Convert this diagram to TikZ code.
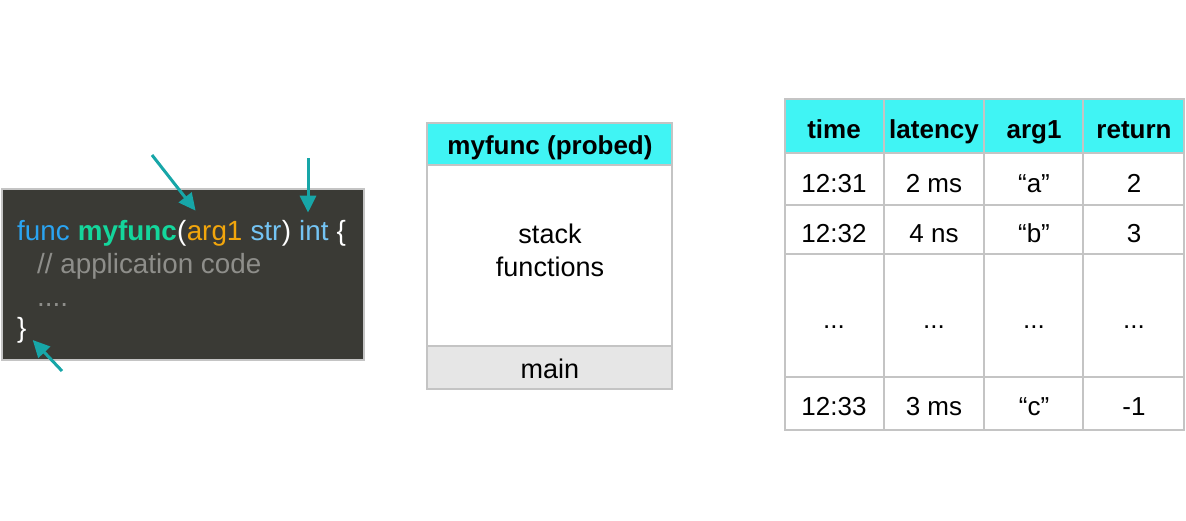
\documentclass[tikz,border=0pt]{standalone}
\usepackage{fontspec}
\setmainfont{Liberation Sans}
\usepackage{xcolor}
\usetikzlibrary{arrows.meta,positioning}

\definecolor{codebg}{HTML}{3A3A35}
\definecolor{frame}{HTML}{C4C4C4}
\definecolor{probeteal}{HTML}{17A6A8}
\definecolor{headcyan}{HTML}{40F4F4}
\definecolor{maingray}{HTML}{E6E6E6}
\definecolor{kwblue}{HTML}{2AA4F2}
\definecolor{fngreen}{HTML}{14D69C}
\definecolor{argorange}{HTML}{F2A60C}
\definecolor{typeblue}{HTML}{74C4F4}
\definecolor{commentgray}{HTML}{8E8E8A}

\newcommand{\rowdots}{...}

\tikzset{
  tok/.style={anchor=base west, inner sep=0pt, font=\fontsize{27.8}{30}\selectfont},
  lbl/.style={anchor=base, inner sep=0pt, font=\fontsize{26}{30}\selectfont},
  hlbl/.style={lbl, font=\fontsize{26}{30}\selectfont\bfseries},
  region/.style={draw=frame, line width=2pt, anchor=north west, inner sep=0pt, outer sep=0pt},
  probe/.style={draw=probeteal, line width=3pt, -{Triangle[length=17pt,width=16pt]}},
}

\begin{document}
\begin{tikzpicture}[x=1pt,y=-1pt]
\useasboundingbox (0,0) rectangle (1186,520);

% code
\node[region, fill=codebg, minimum width=362pt, minimum height=171pt] (code) at (2,189) {};
\node[tok, text=kwblue] (kwfunc) at (17,240) {func};
\node[tok, text=fngreen, font=\fontsize{27.8}{30}\selectfont\bfseries] (fname) at (kwfunc.base east) {\ myfunc};
\node[tok, text=white] (lparen) at (fname.base east) {(};
\node[tok, text=argorange] (arg) at (lparen.base east) {arg1};
\node[tok, text=typeblue] (argtype) at (arg.base east) {\ str};
\node[tok, text=white] (rparen) at (argtype.base east) {)};
\node[tok, text=typeblue] (ret) at (rparen.base east) {\ int};
\node[tok, text=white] (lbrace) at (ret.base east) {\ \{};
\node[tok, text=commentgray] (comment) at (37,273) {// application code};
\node[tok, text=commentgray] (dots) at (37,306) {....};
\node[tok, text=white] (rbrace) at (17,337) {\}};

\coordinate (argtail) at (152,155);
\coordinate (rettail) at (308,158);
\coordinate (bracetail) at (62,371);
\draw[probe] (argtail) -- ([shift={(9,-10)}]arg.north west);
\draw[probe] (rettail) -- ([yshift=7pt]ret.north east -| rettail);
\draw[probe] (bracetail) -- ([shift={(6,-3)}]rbrace.south east);

% stack
\node[region, fill=headcyan, minimum width=245pt, minimum height=42pt] (probed) at (427,123) {};
\node[region, fill=white, minimum width=245pt, minimum height=181pt] (frames) at (probed.south west) {};
\node[region, fill=maingray, minimum width=245pt, minimum height=43pt] (mainfn) at (frames.south west) {};
\node[hlbl] (probedlbl) at (550,154) {myfunc (probed)};
\node[lbl, font=\fontsize{27}{30}\selectfont] (frameslbl) at (550,243) {stack};
\node[lbl, font=\fontsize{27}{30}\selectfont] (frameslbl2) at (550,276) {functions};
\node[lbl, font=\fontsize{27}{30}\selectfont] (mainlbl) at (550,378) {main};

% table
\fill[headcyan] (785,99) rectangle (1184,153);
\foreach \x in {785,884,984,1083,1184}
  \draw[frame, line width=2pt] (\x,98) -- (\x,431);
\foreach \y in {99,153,205,254,377,430}
  \draw[frame, line width=2pt] (784,\y) -- (1185,\y);
\foreach \x/\t in {834/time,934/latency,1034/arg1,1134/return}
  \node[hlbl] (head-\t) at (\x,138) {\t};
\foreach \r/\y/\a/\b/\c/\d in {1/192/12:31/2 ms/“a”/2, 2/242/12:32/4 ns/“b”/3, 3/328/\rowdots/\rowdots/\rowdots/\rowdots, 4/415/12:33/3 ms/“c”/-1} {
  \node[lbl] (time-\r) at (834,\y) {\a};
  \node[lbl] (lat-\r) at (934,\y) {\b};
  \node[lbl] (arg-\r) at (1034,\y) {\c};
  \node[lbl] (ret-\r) at (1134,\y) {\d};
}
\end{tikzpicture}
\end{document}
